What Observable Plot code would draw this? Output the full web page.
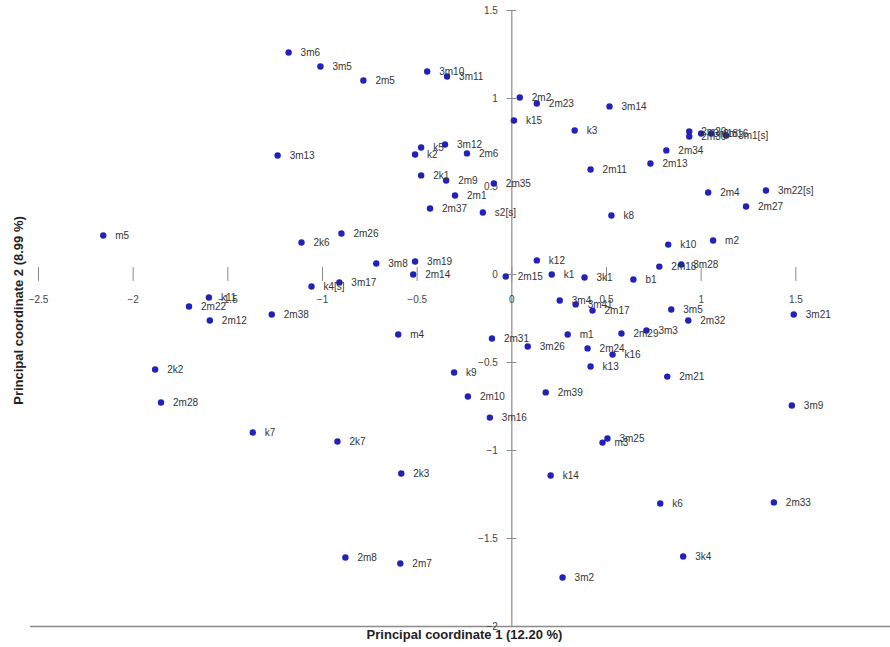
<!DOCTYPE html>
<html>
<head>
<meta charset="utf-8">
<script src="https://cdn.jsdelivr.net/npm/d3@7"></script>
<script src="https://cdn.jsdelivr.net/npm/@observablehq/plot@0.6"></script>
<style>
  html, body { margin: 0; padding: 0; background: #fff; }
  #chart svg { display: block; }
</style>
</head>
<body>
<div id="chart"></div>
<script>
const labels = ["3m6","3m5","2m5","3m10","3m11","2m2","2m23","k15","k3","3m14",
  "2m20","2m30","3m18","2m16","3m1[s]","2m34","2m13","2m11","3m13","k5",
  "k2","3m12","2m6","2k1","2m9","2m35","2m1","2m37","s2[s]","2m4",
  "3m22[s]","2m27","k8","m5","2k6","2m26","k12","k10","m2","3m8",
  "3m19","2m14","k4[s]","3m17","2m15","k1","3k1","b1","2m18","3m28",
  "k11","2m22","2m12","2m38","m4","2m31","3m26","m1","3m4","3m41",
  "2m17","3m5","2m32","2m29","3m3","2m24","k16","k13","2m21","3m21",
  "2k2","2m28","k7","2k7","2k3","k9","2m10","3m16","2m39","m3",
  "3m25","k14","k6","2m33","3k4","3m9","2m8","2m7","3m2"];
const pc1 = [-1.179,-1.011,-0.784,-0.447,-0.342,0.042,0.132,0.011,0.332,0.516,
  0.937,0.937,1.0,1.053,1.132,0.816,0.732,0.416,-1.237,-0.479,
  -0.511,-0.353,-0.237,-0.479,-0.347,-0.095,-0.3,-0.432,-0.153,1.037,
  1.342,1.237,0.526,-2.158,-1.111,-0.9,0.132,0.826,1.063,-0.716,
  -0.511,-0.521,-1.058,-0.911,-0.032,0.211,0.384,0.642,0.779,0.895,
  -1.6,-1.705,-1.595,-1.268,-0.6,-0.105,0.084,0.295,0.253,0.337,
  0.426,0.842,0.932,0.579,0.711,0.4,0.532,0.416,0.821,1.489,
  -1.884,-1.853,-1.368,-0.921,-0.584,-0.305,-0.232,-0.116,0.179,0.479,
  0.505,0.205,0.784,1.384,0.905,1.479,-0.879,-0.589,0.268];
const pc2 = [1.261,1.182,1.102,1.153,1.125,1.006,0.972,0.875,0.818,0.955,
  0.813,0.784,0.801,0.801,0.790,0.705,0.631,0.597,0.676,0.722,
  0.682,0.739,0.688,0.563,0.534,0.517,0.449,0.375,0.352,0.466,
  0.477,0.386,0.335,0.222,0.182,0.233,0.080,0.170,0.193,0.0625,
  0.074,0.0,-0.068,-0.045,-0.011,0.0,-0.017,-0.028,0.045,0.057,
  -0.131,-0.182,-0.261,-0.227,-0.341,-0.364,-0.409,-0.341,-0.148,-0.170,
  -0.205,-0.199,-0.261,-0.335,-0.318,-0.420,-0.455,-0.523,-0.580,-0.227,
  -0.540,-0.727,-0.898,-0.949,-1.131,-0.557,-0.693,-0.813,-0.670,-0.955,
  -0.932,-1.142,-1.301,-1.295,-1.602,-0.744,-1.608,-1.642,-1.722];
const xTicks = [-2.5,-2,-1.5,-1,-0.5,0,0.5,1,1.5];
const yTicks = [-2,-1.5,-1,-0.5,0,0.5,1,1.5];
const xTitle = "Principal coordinate 1 (12.20 %)";
const yTitle = "Principal coordinate 2 (8.99 %)";

const pts = labels.map((l, i) => ({label: l, x: pc1[i], y: pc2[i]}));
const fmt = d => String(d).replace("-", "\u2212");

const chart = Plot.plot({
  width: 890,
  height: 647,
  marginLeft: 38,
  marginRight: 0,
  marginTop: 10,
  marginBottom: 21,
  style: {fontFamily: "'Liberation Sans', Arial, sans-serif", background: "#fff"},
  x: {domain: [-2.5, 2], axis: null},
  y: {domain: [-2, 1.5], axis: null},
  marks: [
    Plot.ruleY([-2], {stroke: "#8a8a8a", strokeWidth: 1.5, insetLeft: -8}),
    Plot.ruleX([0], {stroke: "#8a8a8a", strokeWidth: 1.2}),
    Plot.ruleX(xTicks, {x: d => d, y1: 0, y2: 0, insetTop: -7, insetBottom: -7, stroke: "#8a8a8a"}),
    Plot.ruleY(yTicks, {y: d => d, x1: 0, x2: 0, insetLeft: -5, insetRight: -5, stroke: "#8a8a8a"}),
    Plot.text(xTicks, {x: d => d, y: 0, dy: 25, text: fmt, fontSize: 10, fill: "#444"}),
    Plot.text(yTicks, {x: 0, y: d => d, dx: -14, text: fmt, textAnchor: "end", fontSize: 10, fill: "#444"}),
    Plot.dot(pts, {x: "x", y: "y", r: 3.2, fill: "#2222b8", stroke: "none"}),
    Plot.text(pts, {x: "x", y: "y", text: "label", dx: 12, textAnchor: "start", fontSize: 10, fill: "#333"}),
    Plot.text([xTitle], {frameAnchor: "bottom", dy: 12, text: d => d, fontSize: 13, fontWeight: "bold", fill: "#222"}),
    Plot.text([yTitle], {frameAnchor: "left", textAnchor: "middle", dx: -20, dy: -8, rotate: -90, text: d => d, fontSize: 13, fontWeight: "bold", fill: "#222"})
  ]
});
document.getElementById("chart").appendChild(chart);
</script>
</body>
</html>
